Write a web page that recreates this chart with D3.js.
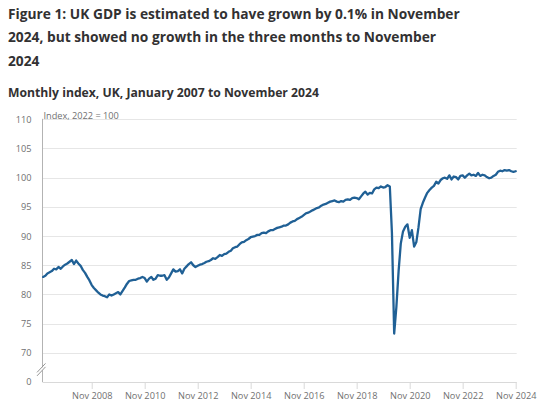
<!DOCTYPE html>
<html>
<head>
<meta charset="utf-8">
<script src="https://cdn.jsdelivr.net/npm/d3@7"></script>
<style>
  html, body { margin: 0; padding: 0; background: #fff; }
  svg { display: block; font-family: "Open Sans", sans-serif; }
</style>
</head>
<body>
<svg id="chart" width="550" height="410"></svg>
<script>
// ---- Data ----
const titleLines = [
  "Figure 1: UK GDP is estimated to have grown by 0.1% in November",
  "2024, but showed no growth in the three months to November",
  "2024"
];
const subtitle = "Monthly index, UK, January 2007 to November 2024";
const axisLabel = "Index, 2022 = 100";
const firstMonth = "2007-01";
// Monthly GDP index (2022 = 100), Jan 2007 .. Nov 2024
const gdp2007 = [83.0, 83.2, 83.6, 83.8, 84.0, 84.4, 84.3, 84.7, 84.4, 84.8, 85.1, 85.3];
const gdp2008 = [85.6, 85.9, 85.2, 85.8, 85.3, 84.9, 84.2, 83.7, 83.0, 82.4, 81.6, 81.1];
const gdp2009 = [80.7, 80.3, 80.0, 79.8, 79.7, 79.5, 80.0, 79.8, 80.0, 80.2, 80.4, 80.0];
const gdp2010 = [80.6, 81.2, 81.8, 82.3, 82.4, 82.5, 82.5, 82.7, 82.8, 83.0, 82.8, 82.2];
const gdp2011 = [82.7, 83.0, 82.5, 82.7, 83.3, 83.2, 83.2, 83.3, 82.5, 82.9, 83.6, 84.3];
const gdp2012 = [83.9, 84.0, 84.3, 83.6, 84.4, 84.8, 85.2, 85.5, 85.0, 84.7, 84.9, 85.1];
const gdp2013 = [85.2, 85.4, 85.6, 85.7, 85.9, 86.2, 86.1, 86.4, 86.75, 86.6, 86.9, 87.0];
const gdp2014 = [87.3, 87.5, 87.9, 88.1, 88.2, 88.6, 88.9, 89.0, 89.3, 89.5, 89.8, 89.9];
const gdp2015 = [90.0, 90.2, 90.2, 90.5, 90.6, 90.5, 90.8, 91.0, 91.0, 91.2, 91.4, 91.5];
const gdp2016 = [91.6, 91.8, 91.8, 92.0, 92.3, 92.5, 92.6, 92.9, 93.1, 93.3, 93.6, 93.9];
const gdp2017 = [94.0, 94.2, 94.4, 94.6, 94.8, 94.9, 95.2, 95.4, 95.5, 95.7, 95.9, 96.0];
const gdp2018 = [96.1, 95.9, 95.8, 96.0, 95.9, 96.2, 96.3, 96.2, 96.5, 96.6, 96.5, 96.3];
const gdp2019 = [96.8, 97.3, 97.6, 97.1, 97.4, 97.3, 98.0, 98.3, 98.2, 98.5, 98.3, 98.4];
const gdp2020 = [98.7, 98.5, 90.6, 73.3, 77.8, 84.0, 88.7, 90.8, 91.6, 92.0, 89.7, 91.0];
const gdp2021 = [88.2, 89.0, 91.4, 94.6, 95.7, 96.6, 97.4, 97.9, 98.3, 98.6, 99.3, 99.0];
const gdp2022 = [99.6, 99.9, 100.0, 99.8, 100.4, 99.7, 100.2, 100.1, 99.7, 100.3, 100.4, 100.0];
const gdp2023 = [100.4, 100.7, 100.4, 100.5, 100.3, 100.8, 100.3, 100.5, 100.4, 100.1, 99.9, 100.0];
const gdp2024 = [100.3, 100.5, 101.0, 101.2, 101.1, 101.3, 101.2, 101.3, 101.1, 101.0, 101.1];

const yTickValues = [65, 70, 75, 80, 85, 90, 95, 100, 105, 110];
const yTickLabels = ["0", "70", "75", "80", "85", "90", "95", "100", "105", "110"];
const xTickDates = ["2008-11", "2010-11", "2012-11", "2014-11", "2016-11", "2018-11", "2020-11", "2022-11", "2024-11"];
const xTickLabels = ["Nov 2008", "Nov 2010", "Nov 2012", "Nov 2014", "Nov 2016", "Nov 2018", "Nov 2020", "Nov 2022", "Nov 2024"];

// ---- Build ----
const values = [].concat(gdp2007, gdp2008, gdp2009, gdp2010, gdp2011, gdp2012, gdp2013, gdp2014,
  gdp2015, gdp2016, gdp2017, gdp2018, gdp2019, gdp2020, gdp2021, gdp2022, gdp2023, gdp2024);
const parseMonth = d3.timeParse("%Y-%m");
const start = parseMonth(firstMonth);
const data = values.map((v, i) => ({ date: d3.timeMonth.offset(start, i), value: v }));

const svg = d3.select("#chart");
const plot = { left: 42.5, right: 515.7, top: 119.3, bottom: 382 };

const x = d3.scaleTime()
  .domain([data[0].date, data[data.length - 1].date])
  .range([plot.left + 0.6, plot.right]);
const y = d3.scaleLinear()
  .domain([65, 110])
  .range([plot.bottom, plot.top]);

// Title
const tg = svg.append("g").attr("fill", "#323132").attr("font-weight", 700);
tg.selectAll("text").data(titleLines).join("text")
  .attr("x", 8).attr("y", (d, i) => 18.8 + i * 23.4)
  .attr("font-size", 13.75)
  .text(d => d);
svg.append("text").attr("x", 8).attr("y", 97).attr("font-size", 12.2)
  .attr("font-weight", 700).attr("fill", "#323132").text(subtitle);

// Gridlines
svg.append("g").selectAll("line").data(yTickValues.filter(v => v !== 65)).join("line")
  .attr("x1", plot.left).attr("x2", plot.right + 1)
  .attr("y1", d => Math.round(y(d)) + 0.5).attr("y2", d => Math.round(y(d)) + 0.5)
  .attr("stroke", "#e6e6e6").attr("stroke-width", 1);

// Y axis
const yAxis = d3.axisLeft(y).tickValues(yTickValues)
  .tickFormat((d, i) => yTickLabels[i]).tickSize(0).tickPadding(11);
const yg = svg.append("g").attr("transform", `translate(${plot.left},0)`).call(yAxis);
yg.select(".domain").remove();
yg.selectAll("text").attr("font-family", "Open Sans").attr("font-size", 9.2).attr("fill", "#707071");
svg.append("line").attr("x1", plot.left).attr("x2", plot.left)
  .attr("y1", plot.top - 0.5).attr("y2", plot.bottom)
  .attr("stroke", "#b3b3b3").attr("stroke-width", 1);

// X axis
const xAxis = d3.axisBottom(x)
  .tickValues(xTickDates.map(parseMonth))
  .tickFormat((d, i) => xTickLabels[i]).tickSize(7).tickPadding(3);
const xg = svg.append("g").attr("transform", `translate(0,${plot.bottom})`).call(xAxis);
xg.select(".domain").attr("stroke", "#d9d9d9").attr("d", `M${plot.left},0.5H${plot.right + 1}`);
xg.selectAll(".tick line").attr("stroke", "#d9d9d9");
xg.selectAll("text").attr("font-family", "Open Sans").attr("font-size", 9.2).attr("fill", "#707071");

// Axis break
const by = (y(65) + y(70)) / 2 + 0.5;
svg.append("polygon")
  .attr("points", `${plot.left - 5},${by + 5} ${plot.left + 3},${by - 4} ${plot.left + 3},${by - 1} ${plot.left - 5},${by + 8}`)
  .attr("fill", "#fff");
svg.append("line").attr("x1", plot.left - 5.5).attr("y1", by + 4.5).attr("x2", plot.left + 3).attr("y2", by - 4.5)
  .attr("stroke", "#8a8a8a").attr("stroke-width", 0.9);
svg.append("line").attr("x1", plot.left - 5.5).attr("y1", by + 8).attr("x2", plot.left + 3).attr("y2", by - 1)
  .attr("stroke", "#8a8a8a").attr("stroke-width", 0.9);

// Axis label (top clipped as in source)
svg.append("clipPath").attr("id", "lblclip").append("rect")
  .attr("x", 0).attr("y", 112).attr("width", 200).attr("height", 10);
svg.append("text").attr("x", plot.left + 1).attr("y", 118.5)
  .attr("font-size", 9.2).attr("fill", "#707071").attr("clip-path", "url(#lblclip)")
  .text(axisLabel);

// Line
const line = d3.line().x(d => x(d.date)).y(d => y(d.value)).curve(d3.curveLinear);
svg.append("path").datum(data)
  .attr("d", line).attr("fill", "none")
  .attr("stroke", "#206095").attr("stroke-width", 2.3)
  .attr("stroke-linejoin", "round").attr("stroke-linecap", "round");
</script>
</body>
</html>
